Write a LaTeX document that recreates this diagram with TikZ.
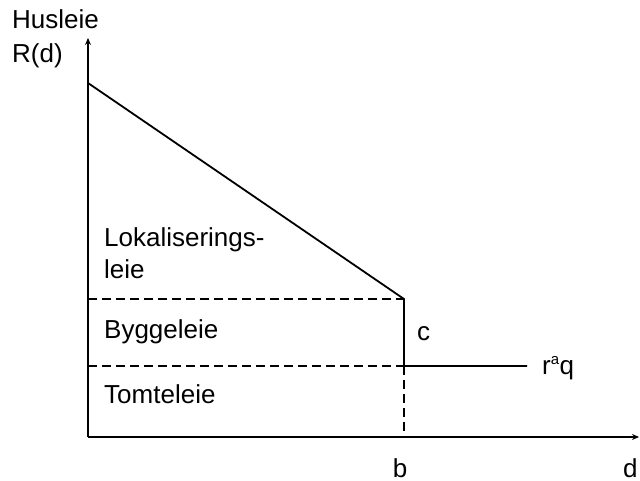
\documentclass[tikz,border=0pt]{standalone}
\usepackage{fontspec}
\setmainfont{Liberation Sans}
\usetikzlibrary{arrows.meta}
\begin{document}
\begin{tikzpicture}[x=1pt,y=-1pt,
  lbl/.style={anchor=base west,inner sep=0pt,font=\fontsize{26}{30}\selectfont},
  axis/.style={line width=1.6pt,-{Stealth[length=7pt,width=6pt]}},
  solidln/.style={line width=1.8pt},
  dashln/.style={line width=1.5pt,dash pattern=on 9pt off 5pt}]
\useasboundingbox (0,0) rectangle (640,481);
\coordinate (O) at (88,437);
\coordinate (ytop) at (88,38);
\coordinate (xend) at (639,437);
\coordinate (A) at (88,83);
\coordinate (K) at (404,299);
\coordinate (M) at (404,366);
\coordinate (E) at (527,366);
\coordinate (L1) at (88,299);
\coordinate (L2) at (88,366);
\coordinate (B) at (404,437);
\draw[axis] (O) -- (ytop);
\draw[axis] (O) -- (xend);
\draw[solidln] (A) -- (K) -- (M) -- (E);
\draw[dashln] (L1) -- (K);
\draw[dashln] (L2) -- (M);
\draw[dashln] (M) -- (B);
\node[lbl] (hus) at (12,29) {Husleie};
\node[lbl] (rd) at (12,63) {R(d)};
\node[lbl] (lok) at (104,247) {Lokaliserings-};
\node[lbl] (leie) at (104,278) {leie};
\node[lbl] (bygg) at (104,338) {Byggeleie};
\node[lbl] (tomt) at (104,403) {Tomteleie};
\node[lbl] (c) at (417,340) {c};
\node[lbl] (raq) at (542,374) {r\textsuperscript{\fontsize{15}{15}\selectfont a}q};
\node[lbl,anchor=base] (b) at (400,477) {b};
\node[lbl] (d) at (623,477) {d};
\end{tikzpicture}
\end{document}
